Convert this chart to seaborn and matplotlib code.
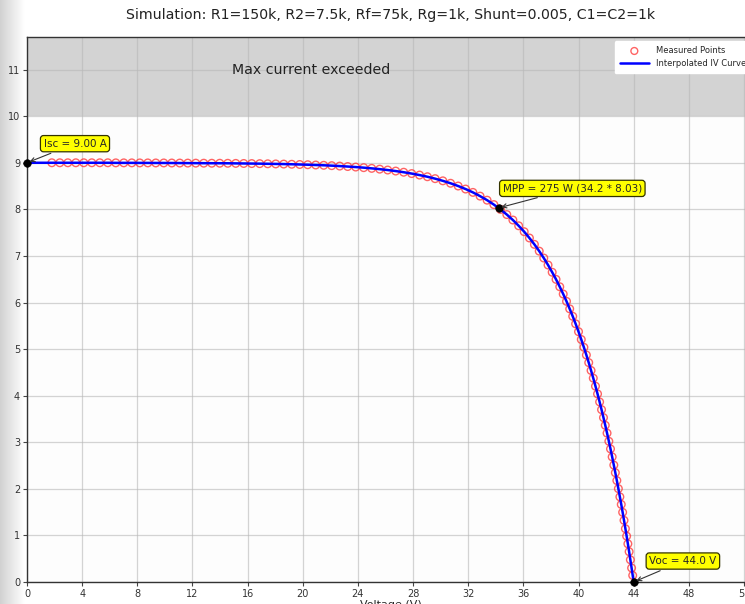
import numpy as np
import pandas as pd
import matplotlib
matplotlib.use("Agg")
import matplotlib.pyplot as plt
import seaborn as sns

# ---------------- data ----------------
meas_v = [1.80, 2.38, 2.96, 3.54, 4.12, 4.70, 5.28, 5.86, 6.44, 7.02,
          7.60, 8.18, 8.76, 9.34, 9.92, 10.50, 11.08, 11.66, 12.24, 12.82,
          13.40, 13.98, 14.56, 15.14, 15.72, 16.30, 16.88, 17.46, 18.04, 18.62,
          19.20, 19.78, 20.36, 20.94, 21.52, 22.10, 22.68, 23.26, 23.84, 24.42,
          25.00, 25.58, 26.16, 26.74, 27.32, 27.90, 28.47, 29.04, 29.60, 30.16,
          30.72, 31.27, 31.81, 32.34, 32.86, 33.37, 33.86, 34.34, 34.80, 35.24,
          35.66, 36.06, 36.44, 36.80, 37.15, 37.48, 37.79, 38.09, 38.37, 38.64,
          38.89, 39.13, 39.36, 39.58, 39.79, 40.00, 40.20, 40.39, 40.57, 40.74,
          40.91, 41.07, 41.23, 41.38, 41.53, 41.67, 41.81, 41.94, 42.07, 42.20,
          42.32, 42.44, 42.56, 42.67, 42.78, 42.89, 43.00, 43.10, 43.20, 43.30,
          43.40, 43.49, 43.58, 43.67, 43.76, 43.85, 43.93]
meas_i = [9.000, 9.000, 9.000, 9.000, 9.000, 9.000, 9.000, 9.000, 8.998, 8.998,
          8.998, 8.997, 8.997, 8.996, 8.996, 8.995, 8.994, 8.993, 8.992, 8.991,
          8.990, 8.990, 8.989, 8.987, 8.985, 8.983, 8.981, 8.978, 8.975, 8.972,
          8.968, 8.963, 8.958, 8.952, 8.946, 8.938, 8.929, 8.919, 8.908, 8.895,
          8.880, 8.863, 8.844, 8.822, 8.797, 8.768, 8.736, 8.700, 8.659, 8.612,
          8.560, 8.501, 8.436, 8.364, 8.284, 8.197, 8.102, 7.998, 7.888, 7.771,
          7.647, 7.520, 7.385, 7.248, 7.103, 6.955, 6.805, 6.650, 6.497, 6.338,
          6.182, 6.025, 5.864, 5.704, 5.543, 5.374, 5.206, 5.038, 4.873, 4.710,
          4.541, 4.376, 4.204, 4.038, 3.866, 3.700, 3.529, 3.364, 3.196, 3.021,
          2.857, 2.686, 2.510, 2.346, 2.178, 2.004, 1.828, 1.665, 1.496, 1.323,
          1.145, 0.985, 0.820, 0.651, 0.477, 0.301, 0.142]

isc = 9.00          # A
voc = 44.0          # V
mpp_v = 34.2        # V
mpp_i = 8.03        # A
max_current = 10.0  # A

title = "Simulation: R1=150k, R2=7.5k, Rf=75k, Rg=1k, Shunt=0.005, C1=C2=1k"
x_ticks = [0, 4, 8, 12, 16, 20, 24, 28, 32, 36, 40, 44, 48, 52]
y_ticks = [0, 1, 2, 3, 4, 5, 6, 7, 8, 9, 10, 11]

meas_df = pd.DataFrame({"Voltage (V)": meas_v, "Current (A)": meas_i})
curve_df = pd.DataFrame({"Voltage (V)": [0.0] + meas_v + [voc],
                         "Current (A)": [isc] + meas_i + [0.0]})
key_df = pd.DataFrame({"Voltage (V)": [0.0, mpp_v, voc],
                       "Current (A)": [isc, mpp_i, 0.0]})

# ---------------- figure ----------------
sns.set_style("ticks")
plt.rcParams["font.family"] = ["DejaVu Sans"]

W, H = 745, 604
fig = plt.figure(figsize=(W / 100, H / 100), dpi=100)
fig.patch.set_facecolor("white")

# faint screenshot shadow at the left edge
shadow = fig.add_axes([0, 0, 24 / W, 1], zorder=-5)
grad = np.linspace(0.82, 1.0, 64).reshape(1, -1)
shadow.imshow(grad, aspect="auto", cmap="gray", vmin=0, vmax=1,
              extent=[0, 1, 0, 1])
shadow.set_axis_off()

ax = fig.add_axes([27 / W, 22 / H, (755 - 27) / W, (582 - 37) / H])
ax.set_facecolor("#fdfdfd")

xmax = voc * 1.2
ymax = isc * 1.3
ax.set_xlim(0, xmax)
ax.set_ylim(0, ymax)

ax.axhspan(max_current, ymax, color="#d3d3d3", zorder=0.5, lw=0)
ax.text(20.6, 11.0, "Max current exceeded", ha="center", va="center",
        fontsize=10.2, color="#222222")

sns.scatterplot(data=meas_df, x="Voltage (V)", y="Current (A)", ax=ax,
                marker="o", s=30, facecolor="none", edgecolor="#ff3030",
                linewidth=1.0, alpha=0.75, label="Measured Points", zorder=3)
sns.lineplot(data=curve_df, x="Voltage (V)", y="Current (A)", ax=ax,
             sort=False, color="blue", lw=1.8, label="Interpolated IV Curve",
             zorder=4)
sns.scatterplot(data=key_df, x="Voltage (V)", y="Current (A)", ax=ax,
                color="black", s=30, edgecolor="black", zorder=6,
                legend=False, clip_on=False)

box = dict(boxstyle="round,pad=0.3", fc="#ffff00", ec="#333300", lw=0.9)
arrow = dict(arrowstyle="->", color="#333333", lw=0.8)
ax.annotate(f"Isc = {isc:.2f} A", xy=(0.0, isc), xytext=(3.48, 9.41),
            ha="center", va="center", fontsize=7.5, bbox=box,
            arrowprops=arrow, zorder=7)
ax.annotate(f"MPP = {mpp_v * mpp_i:.0f} W ({mpp_v} * {mpp_i})",
            xy=(mpp_v, mpp_i), xytext=(39.55, 8.45),
            ha="center", va="center", fontsize=7.5, bbox=box,
            arrowprops=arrow, zorder=7)
ax.annotate(f"Voc = {voc:.1f} V", xy=(voc, 0.0), xytext=(47.57, 0.45),
            ha="center", va="center", fontsize=7.5, bbox=box,
            arrowprops=arrow, zorder=7)

ax.set_xticks(x_ticks)
ax.set_yticks(y_ticks)
ax.tick_params(labelsize=7, length=3, width=0.8, pad=2, colors="#444444",
               labelcolor="#333333")
ax.grid(True, color="#b8b8b8", alpha=0.6, lw=0.9)
for side in ["left", "bottom", "top", "right"]:
    ax.spines[side].set_color("#333333")
    ax.spines[side].set_linewidth(1.0)

ax.set_xlabel("Voltage (V)", fontsize=8, labelpad=1)
ax.set_ylabel("")
ax.set_title(title, fontsize=10.2, pad=13, color="#222222")

leg = ax.legend(loc="upper right", fontsize=6, frameon=True,
                framealpha=1.0, edgecolor="white", borderpad=0.6,
                handlelength=3.5, markerscale=0.9)

fig.savefig("out.png", dpi=100)
